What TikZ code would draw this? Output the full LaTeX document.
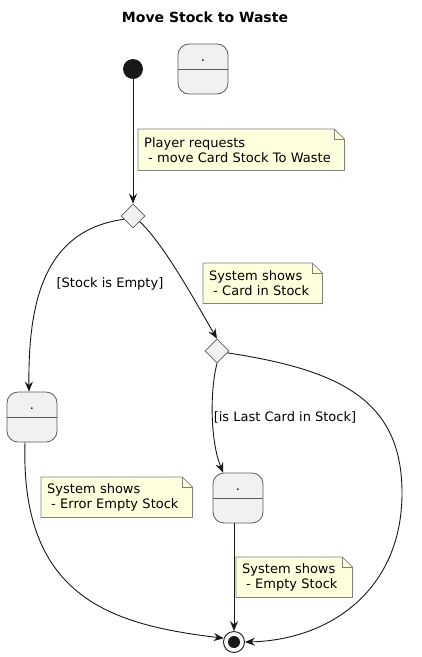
\documentclass[tikz,border=0pt]{standalone}
\usepackage{fontspec}
\setmainfont{DejaVu Sans}
\usepackage{xcolor}
\usepackage{tikz}
\usetikzlibrary{shapes.geometric, arrows.meta, positioning, calc, backgrounds}

\definecolor{stateFill}{HTML}{F1F1F1}
\definecolor{stateLine}{HTML}{5C5C5C}
\definecolor{noteFill}{HTML}{FEFFDD}
\definecolor{noteLine}{HTML}{7F7F7F}
\definecolor{ink}{HTML}{181818}

\begin{document}
\begin{tikzpicture}[x=1pt, y=-1pt, font=\fontsize{13}{15}\selectfont,
    statebox/.style={draw=stateLine, fill=stateFill, rounded corners=11pt, minimum width=50pt, minimum height=50pt, inner sep=0pt, line width=0.8pt},
    choicebox/.style={diamond, draw=stateLine, fill=stateFill, minimum width=24pt, minimum height=24pt, inner sep=0pt, line width=0.8pt},
    notebox/.style={anchor=north west, align=left, inner xsep=6pt, inner ysep=0pt, minimum height=40pt},
    flow/.style={draw=ink, line width=0.9pt, -{Stealth[length=10pt, width=8pt, inset=3.5pt]}},
]
    \useasboundingbox (0,0) rectangle (422,657);

    % Title
    \node[font=\fontsize{14}{16}\selectfont\bfseries] (title) at (205,17) {Move Stock to Waste};

    % Start and end
    \node[circle, fill=ink, minimum size=20pt, inner sep=0pt] (start) at (133,69) {};
    \node[circle, draw=ink, fill=white, minimum size=21pt, inner sep=0pt, line width=0.9pt] (stop) at (234,642) {};
    \fill[ink] (stop) circle (6pt);

    % States
    \node[statebox] (idle) at (203,69) {};
    \node[statebox] (empty) at (32,417) {};
    \node[statebox] (last) at (238,498) {};
    \foreach \s in {idle, empty, last} {
        \node[inner sep=0pt] (\s-dot) at ([yshift=-17pt]\s.north) {.};
        \draw[stateLine, line width=0.8pt] ([yshift=-26pt]\s.north west) -- ([yshift=-26pt]\s.north east);
    }

    % Choices
    \node[choicebox] (check) at (133,216) {};
    \node[choicebox] (branch) at (217,351) {};

    % Notes
    \node[notebox, text width=194pt, minimum height=41pt] (requestnote) at (138,129) {Player requests\\\hspace*{4pt}- move Card Stock To Waste};
    \node[notebox, text width=107pt] (cardnote) at (203,263) {System shows\\\hspace*{4pt}- Card in Stock};
    \node[notebox, text width=139pt] (errornote) at (41,477) {System shows\\\hspace*{4pt}- Error Empty Stock};
    \node[notebox, text width=104pt] (emptynote) at (236,557) {System shows\\\hspace*{4pt}- Empty Stock};
    \begin{scope}[on background layer]
        \foreach \n in {requestnote, cardnote, errornote, emptynote} {
            \filldraw[fill=noteFill, draw=noteLine, line width=0.8pt] (\n.north west) -- ([xshift=-10pt]\n.north east) -- ([yshift=-10pt]\n.north east) -- (\n.south east) -- (\n.south west) -- cycle;
            \draw[noteLine, line width=0.8pt] ([xshift=-10pt]\n.north east) |- ([yshift=-10pt]\n.north east);
        }
    \end{scope}

    % Guards
    \node (emptyguard) at (110,284) {[Stock is Empty]};
    \node (lastguard) at (285,417) {[is Last Card in Stock]};

    % Transitions
    \draw[flow] (start) -- (check);
    \draw[flow] (check.200) .. controls (45,230) and (28,300) .. ([xshift=-3pt]empty.north);
    \draw[flow] (check.-40) .. controls (165,245) and (200,310) .. (branch.north);
    \draw[flow] (branch.south) .. controls (210,390) and (210,440) .. ([xshift=-15pt]last.north);
    \draw[flow] (branch.-10) .. controls (340,370) and (402,400) .. (402,493) .. controls (402,590) and (330,640) .. (stop.east);
    \draw[flow] ([xshift=-7pt]empty.south) .. controls (20,600) and (115,625) .. (stop.160);
    \draw[flow] ([xshift=-4pt]last.south) -- (stop.north);
\end{tikzpicture}
\end{document}
